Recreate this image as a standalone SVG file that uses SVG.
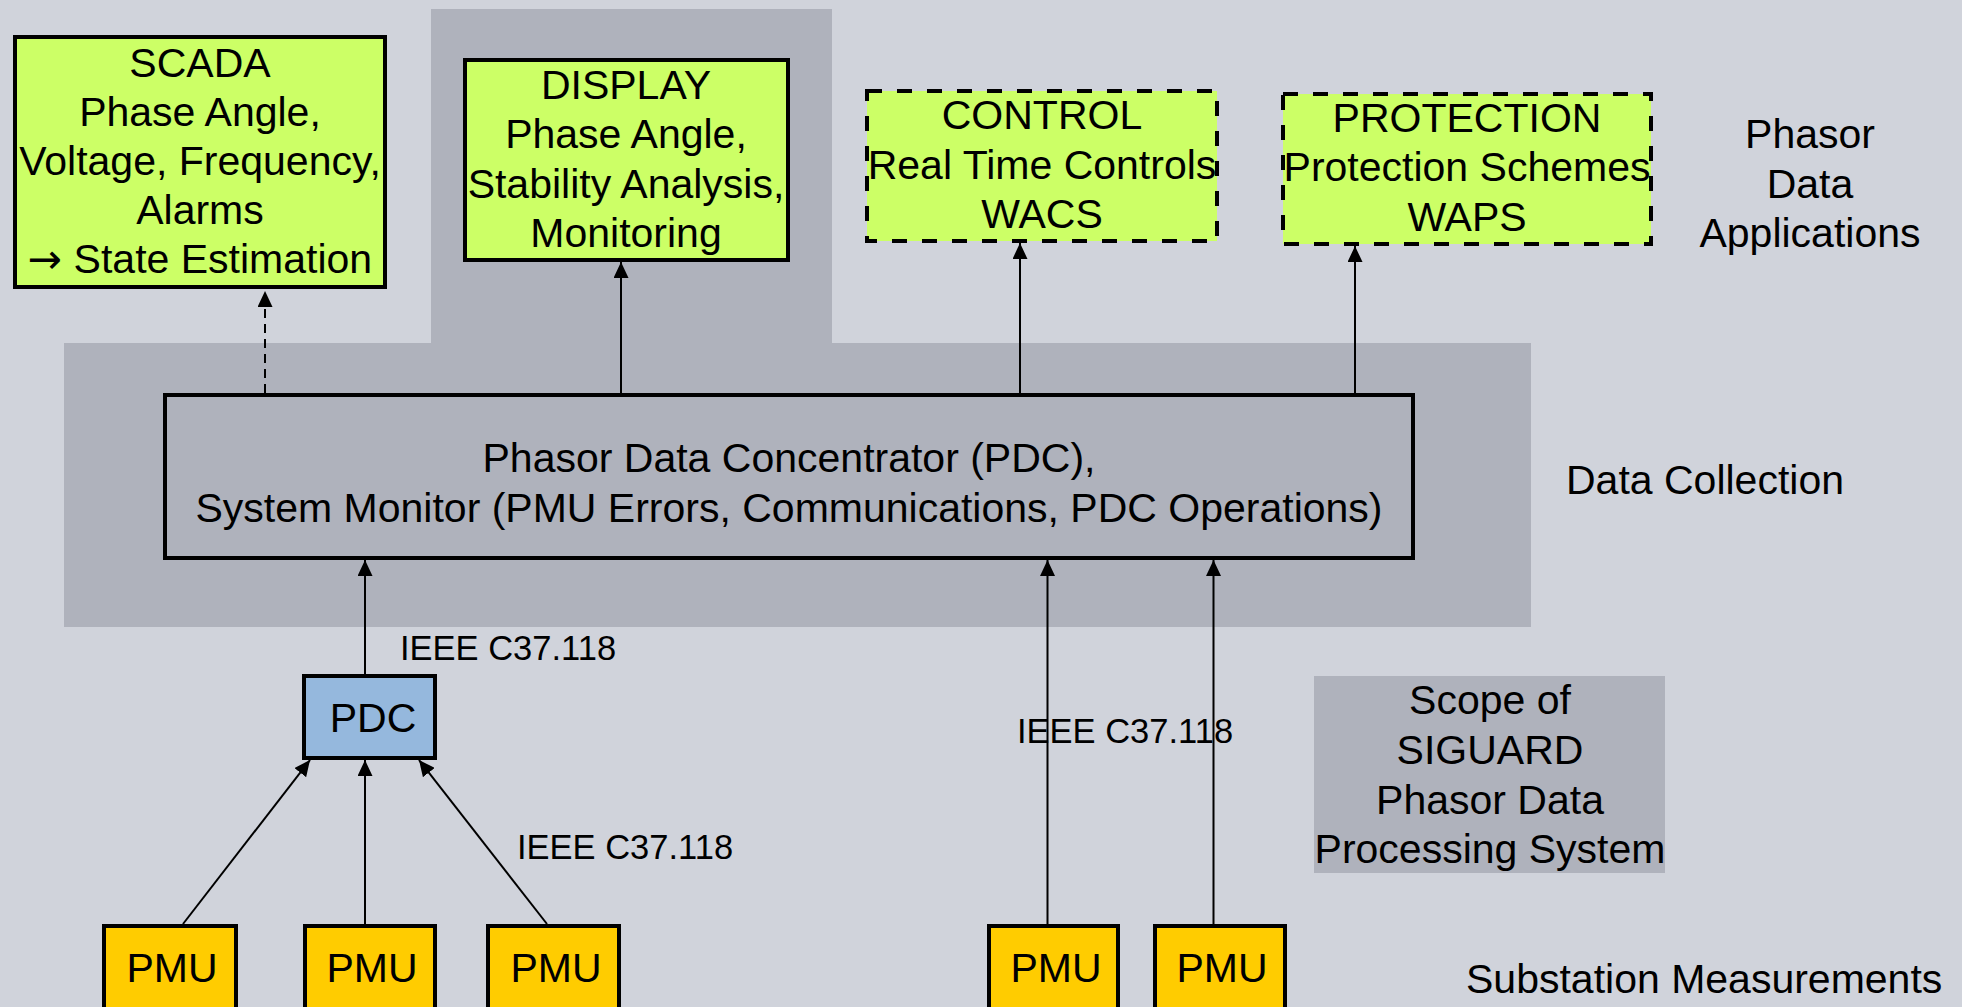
<svg xmlns="http://www.w3.org/2000/svg" width="1962" height="1007" viewBox="0 0 1962 1007">
  <style>
    text { font-family: "Liberation Sans", Arial, sans-serif; fill: #000; }
    .big { font-size: 41px; text-anchor: middle; }
    .side { font-size: 41px; }
    .lbl { font-size: 34.5px; }
    .sym { font-family: "DejaVu Sans", sans-serif; }
    .app { fill: #CCFF66; stroke: #000; stroke-width: 4; }
    .app-dash { fill: #CCFF66; stroke: #000; stroke-width: 4; stroke-dasharray: 15 15; }
    .pdc { fill: #95B8DD; stroke: #000; stroke-width: 4; }
    .pmu { fill: #FFCC00; stroke: #000; stroke-width: 4; }
    .conc { fill: #AFB2BC; stroke: #000; stroke-width: 4; }
    .zone { fill: #AFB2BC; }
    .link { stroke: #000; stroke-width: 2; fill: none; marker-end: url(#arrow); }
    .link-dash { stroke: #000; stroke-width: 2; fill: none; stroke-dasharray: 9 6; marker-end: url(#arrow); }
  </style>
  <defs>
    <marker id="arrow" markerUnits="userSpaceOnUse" markerWidth="17" markerHeight="15" refX="16" refY="7.5" orient="auto">
      <path d="M0,0 L16,7.5 L0,15 Z" fill="#000"/>
    </marker>
  </defs>

  <!-- page background -->
  <rect x="0" y="0" width="1962" height="1007" fill="#D0D3DB"/>

  <!-- shaded scope of the data processing system -->
  <path class="zone" d="M431,9 H832 V343 H1531 V627 H64 V343 H431 Z"/>

  <!-- tiers -->
  <g id="label-applications">
    <text class="big" x="1810" y="148">Phasor</text>
    <text class="big" x="1810" y="198">Data</text>
    <text class="big" x="1810" y="247">Applications</text>
  </g>
  <text id="label-collection" class="side" x="1566" y="494">Data Collection</text>
  <text id="label-substation" class="side" x="1466" y="993">Substation Measurements</text>

  <g id="scope">
    <rect x="1314" y="676" width="351" height="197" fill="#AFB2BC"/>
    <text class="big" x="1490" y="714">Scope of</text>
    <text class="big" x="1490" y="764">SIGUARD</text>
    <text class="big" x="1490" y="814">Phasor Data</text>
    <text class="big" x="1490" y="863">Processing System</text>
  </g>

  <!-- connectors -->
  <g id="connectors">
    <line class="link-dash" x1="265" y1="393" x2="265" y2="291"/>
    <line class="link" x1="621" y1="393" x2="621" y2="262"/>
    <line class="link" x1="1020" y1="393" x2="1020" y2="243"/>
    <line class="link" x1="1355" y1="393" x2="1355" y2="246"/>
    <line class="link" x1="365" y1="674" x2="365" y2="560"/>
    <line class="link" x1="1047.5" y1="924" x2="1047.5" y2="560"/>
    <line class="link" x1="1213.5" y1="924" x2="1213.5" y2="560"/>
    <line class="link" x1="183" y1="924" x2="310" y2="760"/>
    <line class="link" x1="365" y1="924" x2="365" y2="760"/>
    <line class="link" x1="547" y1="924" x2="419" y2="760"/>
    <text class="lbl" x="400" y="660">IEEE C37.118</text>
    <text class="lbl" x="517" y="859">IEEE C37.118</text>
    <text class="lbl" x="1017" y="743">IEEE C37.118</text>
  </g>

  <!-- application nodes -->
  <g id="scada">
    <rect class="app" x="15" y="37" width="370" height="250"/>
    <text class="big" x="200" y="77">SCADA</text>
    <text class="big" x="200" y="126">Phase Angle,</text>
    <text class="big" x="200" y="175">Voltage, Frequency,</text>
    <text class="big" x="200" y="224">Alarms</text>
    <text class="big" x="200" y="273"><tspan class="sym">→</tspan> State Estimation</text>
  </g>
  <g id="display">
    <rect class="app" x="465" y="60" width="323" height="200"/>
    <text class="big" x="626" y="99">DISPLAY</text>
    <text class="big" x="626" y="148">Phase Angle,</text>
    <text class="big" x="626" y="198">Stability Analysis,</text>
    <text class="big" x="626" y="247">Monitoring</text>
  </g>
  <g id="control">
    <rect class="app-dash" x="867" y="91" width="350" height="150"/>
    <text class="big" x="1042" y="129">CONTROL</text>
    <text class="big" x="1042" y="179">Real Time Controls</text>
    <text class="big" x="1042" y="228">WACS</text>
  </g>
  <g id="protection">
    <rect class="app-dash" x="1283" y="94" width="368" height="150"/>
    <text class="big" x="1467" y="132">PROTECTION</text>
    <text class="big" x="1467" y="181">Protection Schemes</text>
    <text class="big" x="1467" y="231">WAPS</text>
  </g>

  <!-- central concentrator -->
  <g id="concentrator">
    <rect class="conc" x="165" y="395" width="1248" height="163"/>
    <text class="big" x="789" y="472">Phasor Data Concentrator (PDC),</text>
    <text class="big" x="789" y="522">System Monitor (PMU Errors, Communications, PDC Operations)</text>
  </g>

  <!-- substation PDC -->
  <g id="pdc">
    <rect class="pdc" x="304" y="676" width="131" height="82"/>
    <text class="big" x="373" y="732">PDC</text>
  </g>

  <!-- measurement units -->
  <g id="pmu1">
    <rect class="pmu" x="104" y="926" width="132" height="100"/>
    <text class="big" x="172" y="982">PMU</text>
  </g>
  <g id="pmu2">
    <rect class="pmu" x="305" y="926" width="130" height="100"/>
    <text class="big" x="372" y="982">PMU</text>
  </g>
  <g id="pmu3">
    <rect class="pmu" x="488" y="926" width="131" height="100"/>
    <text class="big" x="556" y="982">PMU</text>
  </g>
  <g id="pmu4">
    <rect class="pmu" x="989" y="926" width="129" height="100"/>
    <text class="big" x="1056" y="982">PMU</text>
  </g>
  <g id="pmu5">
    <rect class="pmu" x="1155" y="926" width="130" height="100"/>
    <text class="big" x="1222" y="982">PMU</text>
  </g>
</svg>
